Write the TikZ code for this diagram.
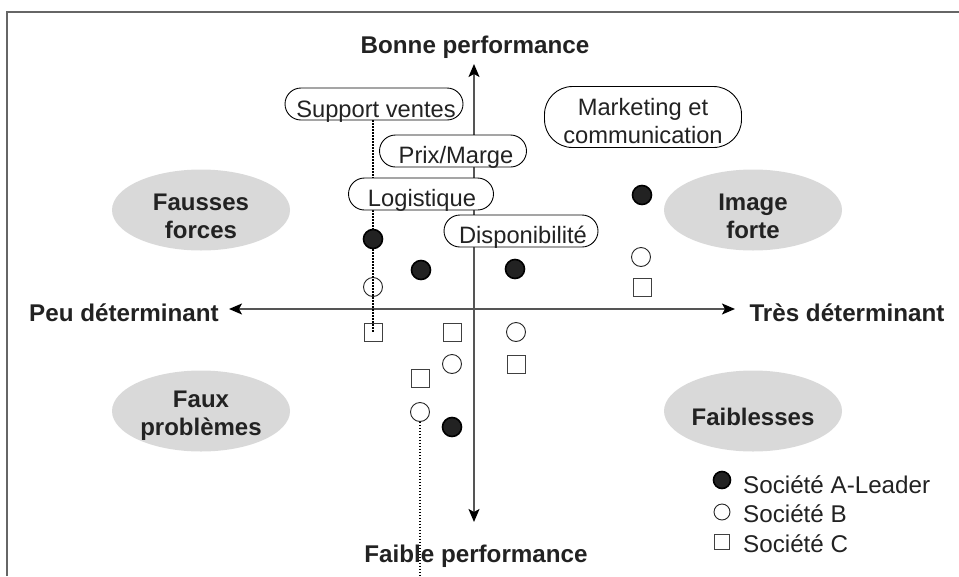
\documentclass[tikz,border=0pt]{standalone}
\usepackage{fontspec}
\setmainfont{Liberation Sans}
\usetikzlibrary{arrows.meta,calc,shapes.geometric}
\definecolor{txtc}{HTML}{222222}
\definecolor{axisc}{HTML}{555555}
\definecolor{framec}{HTML}{666666}
\definecolor{zonec}{HTML}{D9D9D9}
\definecolor{darkdot}{HTML}{222222}
\begin{document}
\begin{tikzpicture}[x=1pt,y=-1pt,
  axislbl/.style={font=\fontsize{24.2}{28}\selectfont\bfseries, text=txtc, inner sep=0pt},
  zone/.style={ellipse, fill=zonec, minimum width=178pt, minimum height=81pt, inner sep=0pt},
  zonetxt/.style={align=center, font=\fontsize{24}{28}\selectfont\bfseries, text=txtc, inner sep=0pt},
  crit/.style={draw=black, line width=0.9pt, fill=white, rounded corners=16pt, minimum height=32pt, inner sep=0pt},
  crittxt/.style={font=\fontsize{23.7}{28}\selectfont, text=txtc, inner sep=0pt, anchor=base},
  axisline/.style={draw=axisc, line width=1.6pt, {Stealth[length=13pt,width=11pt,inset=3pt,fill=black,color=black]}-{Stealth[length=13pt,width=11pt,inset=3pt,fill=black,color=black]}},
  dotA/.style={circle, fill=darkdot, draw=black, line width=1.6pt, minimum size=19pt, inner sep=0pt},
  dotB/.style={circle, draw=black!85, line width=0.9pt, minimum size=19pt, inner sep=0pt},
  dotC/.style={rectangle, draw=black!75, line width=0.9pt, minimum size=18pt, inner sep=0pt},
  ldotA/.style={dotA, minimum size=17pt},
  ldotB/.style={dotB, minimum size=16pt},
  ldotC/.style={dotC, minimum size=15pt},
  legtxt/.style={font=\fontsize{24.2}{28}\selectfont, text=txtc, inner sep=0pt, anchor=base west},
  dotline/.style={draw=black, line width=1.1pt, dash pattern=on 1.1pt off 1.9pt}
]
\useasboundingbox (0,0) rectangle (959,576);
% frame
\draw[framec, line width=1.5pt] (7,576) -- (7,12) -- (959,12);

% axes
\coordinate (top) at (474,64);
\coordinate (bot) at (474,522);
\coordinate (lft) at (229,309);
\coordinate (rgt) at (735,309);
\draw[axisline] (bot) -- (top);
\draw[axisline] (lft) -- (rgt);

% axis labels
\node[axislbl, anchor=base] (bp) at (475,53) {Bonne performance};
\node[axislbl, anchor=base] (fp) at (476,562) {Faible performance};
\node[axislbl, anchor=base] (pd) at (124,321) {Peu déterminant};
\node[axislbl, anchor=base] (td) at (847,321) {Très déterminant};

% zones
\node[zone] (ff) at (201,210) {};
\node[zonetxt] (fft) at ($(ff.center)+(0,6)$) {Fausses\\forces};
\node[zone] (if) at (753,210) {};
\node[zonetxt] (ift) at ($(if.center)+(0,6)$) {Image\\forte};
\node[zone] (fx) at (201,411) {};
\node[zonetxt] (fxt) at ($(fx.center)+(0,5)$) {Faux\\problèmes};
\node[zone] (fb) at (753,411) {};
\node[zonetxt] (fbt) at ($(fb.center)+(0,6)$) {Faiblesses};

% markers
\node[dotB] (b1) at (373,287) {};
\node[dotC] (c1) at (373,332) {};
\node[dotC] (c2) at (452,332) {};
\node[dotB] (b2) at (516,332) {};
\node[dotB] (b3) at (452,364) {};
\node[dotC] (c3) at (516,364) {};
\node[dotC] (c4) at (420,378) {};
\node[dotB] (b4) at (420,412) {};
\node[dotB] (b5) at (641,257) {};
\node[dotC] (c5) at (642,287) {};

% criteria boxes
\node[crit, minimum width=178pt] (sv) at (374,104) {};
\node[crittxt] (svt) at ($(sv.south)+(2,-3)$) {Support ventes};

% dotted leaders
\draw[dotline] (c1.center |- sv.south) -- (c1.center);
\coordinate (dlend) at (420,576);
\draw[dotline] (b4.south) -- (dlend);

\node[crit, minimum width=147pt] (pm) at (453,151) {};
\node[crittxt] (pmt) at ($(pm.south)+(3,-4)$) {Prix/Marge};
\node[crit, minimum width=145pt] (lg) at (421,194) {};
\node[crittxt] (lgt) at ($(lg.south)+(1,-4)$) {Logistique};
\node[crit, minimum width=154pt] (dp) at (521,231) {};
\node[crittxt] (dpt) at ($(dp.south)+(2,-4)$) {Disponibilité};
\node[crit, minimum width=197pt, minimum height=61pt, rounded corners=28pt] (mk) at (643,117) {};
\node[crittxt] (mkt1) at ($(mk.center)+(0,-2)$) {Marketing et};
\node[crittxt] (mkt2) at ($(mk.center)+(0,26)$) {communication};

% filled markers
\node[dotA] (a1) at (373,239) {};
\node[dotA] (a2) at (421,270) {};
\node[dotA] (a3) at (515,269) {};
\node[dotA] (a4) at (452,427) {};
\node[dotA] (a5) at (642,195) {};

% legend
\node[ldotA] (la) at (722,480) {};
\node[legtxt] (lat) at (743,493) {Société A-Leader};
\node[ldotB] (lb) at (722,512) {};
\node[legtxt] (lbt) at (743,522) {Société B};
\node[ldotC] (lc) at (722,542) {};
\node[legtxt] (lct) at (743,552) {Société C};
\end{tikzpicture}
\end{document}
